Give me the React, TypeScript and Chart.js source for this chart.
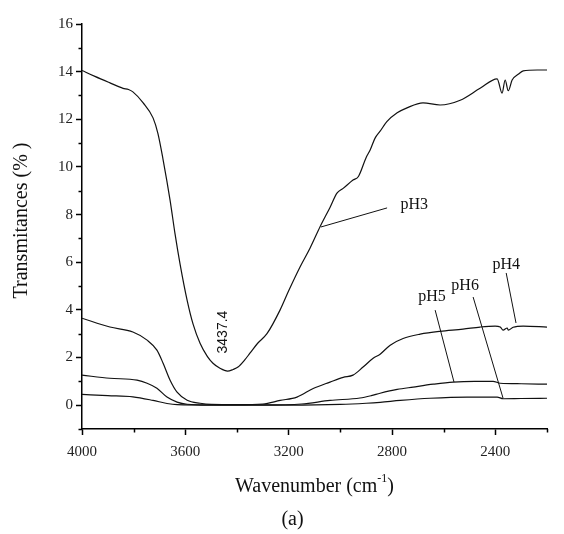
import React, { useEffect, useRef } from 'react';
import { Chart, registerables } from 'chart.js';
Chart.register(...registerables);

// ---- data (wavenumber cm-1, transmittance %) ----
const wnPH3 = [4000, 3950, 3892, 3841, 3820, 3803, 3764, 3725, 3706, 3686, 3659, 3640, 3620, 3593, 3570, 3543, 3515, 3493, 3466, 3437, 3415, 3396, 3370, 3350, 3320, 3284, 3233, 3200, 3156, 3117, 3078, 3040, 3013, 2989, 2951, 2930, 2900, 2885, 2866, 2846, 2820, 2780, 2742, 2680, 2614, 2536, 2459, 2393, 2374, 2362, 2350, 2335, 2310, 2292, 2238, 2200];
const tPH3 = [14.05, 13.8, 13.53, 13.3, 13.25, 13.15, 12.7, 12.06, 11.4, 10.3, 8.6, 7.2, 5.9, 4.4, 3.4, 2.6, 2.05, 1.76, 1.55, 1.43, 1.5, 1.6, 1.9, 2.18, 2.6, 3.0, 4.0, 4.8, 5.8, 6.6, 7.5, 8.3, 8.9, 9.1, 9.45, 9.6, 10.4, 10.7, 11.2, 11.5, 11.9, 12.27, 12.48, 12.69, 12.6, 12.8, 13.3, 13.7, 13.1, 13.65, 13.2, 13.65, 13.9, 14.03, 14.07, 14.07];

const wnPH4 = [4000, 3892, 3803, 3748, 3710, 3686, 3659, 3632, 3593, 3543, 3500, 3400, 3300, 3233, 3168, 3105, 3040, 2989, 2951, 2912, 2873, 2846, 2807, 2757, 2691, 2614, 2525, 2459, 2401, 2381, 2370, 2354, 2350, 2331, 2292, 2200];
const tPH4 = [3.65, 3.28, 3.07, 2.73, 2.31, 1.76, 1.05, 0.55, 0.21, 0.08, 0.03, 0.02, 0.05, 0.2, 0.34, 0.7, 0.97, 1.17, 1.26, 1.6, 1.97, 2.14, 2.52, 2.8, 2.98, 3.1, 3.19, 3.28, 3.32, 3.28, 3.15, 3.24, 3.15, 3.27, 3.32, 3.28];

const wnPH5 = [4000, 3892, 3787, 3748, 3710, 3671, 3632, 3593, 3500, 3300, 3150, 3040, 2924, 2880, 2846, 2780, 2718, 2640, 2563, 2480, 2409, 2381, 2300, 2200];
const tPH5 = [1.26, 1.13, 1.05, 0.92, 0.71, 0.34, 0.13, 0.04, 0.01, 0.01, 0.05, 0.2, 0.3, 0.4, 0.5, 0.66, 0.76, 0.88, 0.97, 1.0, 1.0, 0.92, 0.9, 0.88];

const wnPH6 = [4000, 3900, 3803, 3725, 3671, 3632, 3500, 3200, 3000, 2900, 2846, 2768, 2653, 2509, 2393, 2370, 2300, 2200];
const tPH6 = [0.45, 0.4, 0.35, 0.2, 0.07, 0.02, 0.0, 0.0, 0.03, 0.08, 0.12, 0.2, 0.29, 0.34, 0.34, 0.27, 0.28, 0.29];

// axis ticks
const xMajor = [2400, 2800, 3200, 3600, 4000];
const xMinor = [2200, 2600, 3000, 3400, 3800];
const yMajor = [0, 2, 4, 6, 8, 10, 12, 14, 16];
const yMinor = [-1, 1, 3, 5, 7, 9, 11, 13, 15];

// annotations
const labelNames = ['pH3', 'pH4', 'pH5', 'pH6'];
const labelX = [2714, 2358, 2645, 2517];
const labelY = [8.4, 5.88, 4.54, 5.0];
const pointerFromX = [2819, 2358, 2633, 2486];
const pointerFromY = [8.28, 5.55, 3.99, 4.54];
const pointerToX = [3075, 2320, 2560, 2370];
const pointerToY = [7.48, 3.45, 0.97, 0.29];
const peakText = '3437.4';
const peakX = 3454;
const peakY = 3.07;

const SERIF = '"Liberation Serif", "Times New Roman", serif';
const SANS = '"Liberation Sans", Arial, sans-serif';

export default function App() {
  const ref = useRef<HTMLCanvasElement>(null);
  useEffect(() => {
    const toPts = (xs: number[], ys: number[]) => xs.map((x, i) => ({ x, y: ys[i] }));
    const ds = (pts: any) => ({
      data: pts,
      borderColor: '#111',
      borderWidth: 1.2,
      pointRadius: 0,
      fill: false,
      cubicInterpolationMode: 'monotone' as const,
    });

    const extras = {
      id: 'extras',
      afterDraw(chart: any) {
        const { ctx, chartArea, scales } = chart;
        const xs = scales.x;
        const ys = scales.y;
        ctx.save();
        ctx.strokeStyle = '#000';
        ctx.lineWidth = 1.5;
        // minor ticks
        xMinor.forEach((v) => {
          const px = Math.round(xs.getPixelForValue(v)) + 0.5;
          ctx.beginPath();
          ctx.moveTo(px, chartArea.bottom);
          ctx.lineTo(px, chartArea.bottom + 3.5);
          ctx.stroke();
        });
        yMinor.forEach((v) => {
          const py = Math.round(ys.getPixelForValue(v)) + 0.5;
          ctx.beginPath();
          ctx.moveTo(chartArea.left, py);
          ctx.lineTo(chartArea.left - 3.5, py);
          ctx.stroke();
        });
        // pointer lines
        ctx.lineWidth = 1;
        ctx.strokeStyle = '#111';
        for (let i = 0; i < labelNames.length; i++) {
          ctx.beginPath();
          ctx.moveTo(xs.getPixelForValue(pointerFromX[i]), ys.getPixelForValue(pointerFromY[i]));
          ctx.lineTo(xs.getPixelForValue(pointerToX[i]), ys.getPixelForValue(pointerToY[i]));
          ctx.stroke();
        }
        // labels
        ctx.fillStyle = '#111';
        ctx.font = `16px ${SERIF}`;
        ctx.textAlign = 'center';
        ctx.textBaseline = 'middle';
        for (let i = 0; i < labelNames.length; i++) {
          ctx.fillText(labelNames[i], xs.getPixelForValue(labelX[i]), ys.getPixelForValue(labelY[i]));
        }
        // peak label rotated
        ctx.save();
        ctx.translate(xs.getPixelForValue(peakX), ys.getPixelForValue(peakY));
        ctx.rotate(-Math.PI / 2);
        ctx.font = `14px ${SANS}`;
        ctx.fillText(peakText, 0, 0);
        ctx.restore();

        // axis titles
        const cx = (chartArea.left + chartArea.right) / 2;
        ctx.font = `20px ${SERIF}`;
        const p1 = 'Wavenumber (cm';
        const sup = '-1';
        const p2 = ')';
        const w1 = ctx.measureText(p1).width;
        const w3 = ctx.measureText(p2).width;
        ctx.font = `12px ${SERIF}`;
        const w2 = ctx.measureText(sup).width;
        const total = w1 + w2 + w3;
        const ty = chartArea.bottom + 58;
        let sx = cx - total / 2;
        ctx.textAlign = 'left';
        ctx.font = `20px ${SERIF}`;
        ctx.fillText(p1, sx, ty);
        sx += w1;
        ctx.font = `12px ${SERIF}`;
        ctx.fillText(sup, sx, ty - 8);
        sx += w2;
        ctx.font = `20px ${SERIF}`;
        ctx.fillText(p2, sx, ty);

        ctx.textAlign = 'center';
        ctx.fillText('(a)', cx - 22, chartArea.bottom + 91);

        ctx.save();
        ctx.translate(22, (chartArea.top + chartArea.bottom) / 2 - 6);
        ctx.rotate(-Math.PI / 2);
        ctx.fillText('Transmitances (% )', 0, 0);
        ctx.restore();

        ctx.restore();
      },
    };

    const chart = new Chart(ref.current as HTMLCanvasElement, {
      type: 'line',
      data: {
        datasets: [
          ds(toPts(wnPH3, tPH3)),
          ds(toPts(wnPH4, tPH4)),
          ds(toPts(wnPH5, tPH5)),
          ds(toPts(wnPH6, tPH6)),
        ],
      },
      options: {
        animation: false,
        responsive: true,
        maintainAspectRatio: false,
        layout: { padding: { left: 0, right: 17, top: 24, bottom: 0 } },
        plugins: { legend: { display: false }, tooltip: { enabled: false } },
        scales: {
          x: {
            type: 'linear',
            reverse: true,
            min: 2200,
            max: 4000,
            afterBuildTicks: (s: any) => {
              s.ticks = xMajor.map((v) => ({ value: v }));
            },
            afterFit: (s: any) => {
              s.height = 105;
            },
            grid: { drawOnChartArea: false, drawTicks: true, tickLength: 6, tickColor: '#000', tickWidth: 1.5 },
            border: { display: true, color: '#000', width: 1.5 },
            ticks: {
              autoSkip: false,
              maxRotation: 0,
              padding: 8,
              color: '#222',
              font: { family: SERIF, size: 15 },
              callback: (v: any) => String(v),
            },
          },
          y: {
            type: 'linear',
            min: -1,
            max: 16,
            afterBuildTicks: (s: any) => {
              s.ticks = yMajor.map((v) => ({ value: v }));
            },
            afterFit: (s: any) => {
              s.width = 82;
            },
            grid: { drawOnChartArea: false, drawTicks: true, tickLength: 6, tickColor: '#000', tickWidth: 1.5 },
            border: { display: true, color: '#000', width: 1.5 },
            ticks: {
              padding: 3,
              color: '#222',
              font: { family: SERIF, size: 15 },
              callback: (v: any) => String(v),
            },
          },
        },
      },
      plugins: [extras],
    });
    return () => chart.destroy();
  }, []);

  return (
    <div style={{ position: 'absolute', left: 0, top: 0, width: 564, height: 534, background: '#fff' }}>
      <canvas ref={ref} />
    </div>
  );
}
